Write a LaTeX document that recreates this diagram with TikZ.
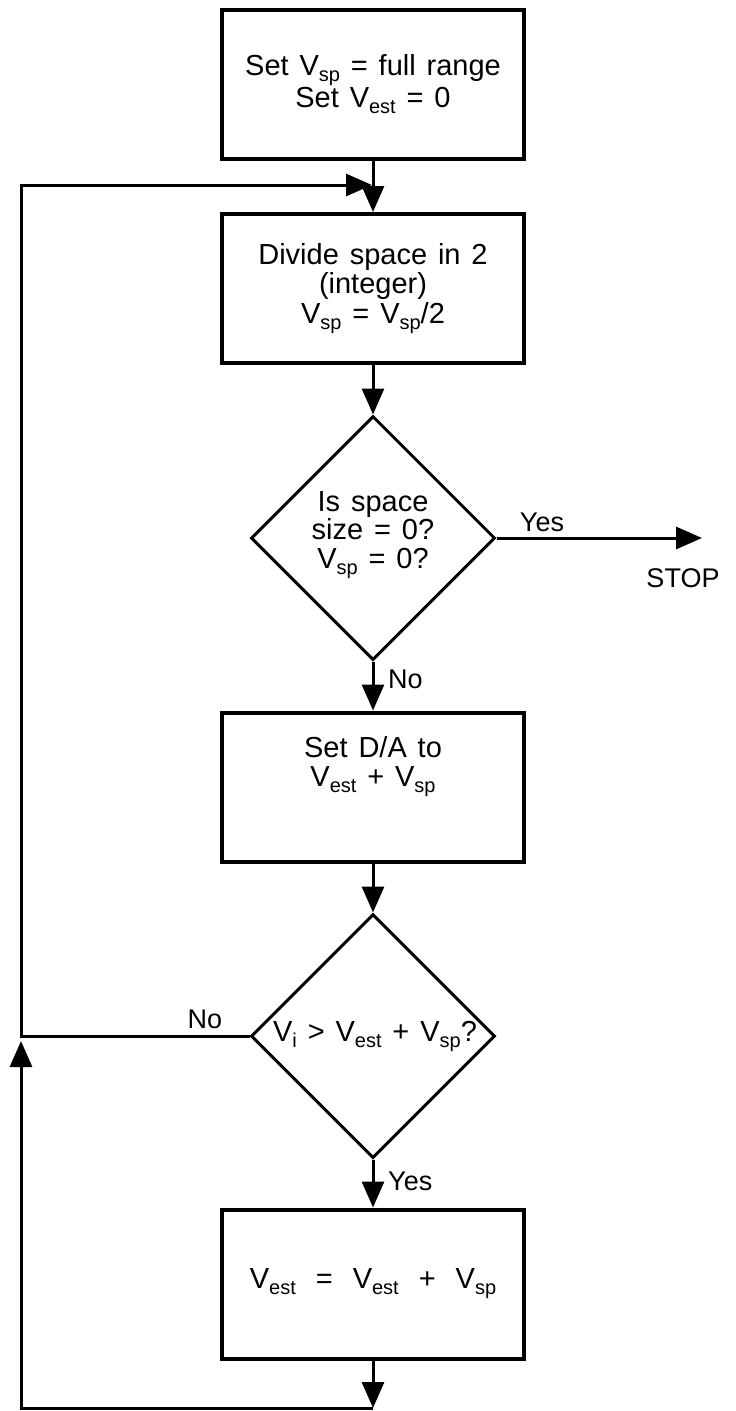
\documentclass[tikz,border=0pt]{standalone}
\usepackage{fontspec}
\setmainfont{Liberation Sans}[WordSpace=1.35]
\usetikzlibrary{arrows.meta,shapes.geometric}
% lowered, smaller subscript text
\newcommand\lowsub[1]{\raisebox{-6pt}{\fontsize{20}{20}\selectfont #1}}
% wider gap used in the update formula
\newcommand\gap{\hspace{20pt}}
\begin{document}
\begin{tikzpicture}[x=1pt,y=-1pt,
  box/.style={draw,line width=4pt,minimum width=302pt,minimum height=149pt,
    inner sep=0pt,align=center,font=\fontsize{29}{29.5}\selectfont},
  dec/.style={draw,diamond,line width=3pt,minimum width=244pt,
    minimum height=244pt,inner sep=0pt},
  txt/.style={align=center,inner sep=0pt,font=\fontsize{29}{28.5}\selectfont},
  lbl/.style={inner sep=0pt,font=\fontsize{27}{27}\selectfont},
  arr/.style={line width=3pt,-{Triangle[length=26pt,width=22pt]}},
  ln/.style={line width=3pt}]
\useasboundingbox (0,0) rectangle (736,1411);

% process boxes
\node[box] (b1) at (373,84) {Set V\lowsub{sp} = full range\\Set V\lowsub{est} = 0};
\node[box] (b2) at (373,288.5) {Divide space in 2\\(integer)\\V\lowsub{sp} = V\lowsub{sp}/2};
\node[box] (b3) at (373,787) {Set D/A to\\V\lowsub{est} + V\lowsub{sp}\\[22pt]};
\node[box] (b4) at (373,1284) {V\lowsub{est}\gap=\gap V\lowsub{est}\gap+\gap V\lowsub{sp}};

% decisions
\node[dec] (d1) at (373,538) {};
\node[txt] (t1) at (373,535) {Is space\\size = 0?\\V\lowsub{sp} = 0?};
\node[dec] (d2) at (373,1036) {};
\node[txt] (t2) at (375,1036) {V\lowsub{i} > V\lowsub{est} + V\lowsub{sp}?};

% free ends of connectors
\coordinate (stop) at (702,538);
\coordinate (ltop) at (21,185);
\coordinate (ljoin) at (372,185);
\coordinate (bjoin) at (373,1408);
\coordinate (lup) at (21,1041);

% main flow
\draw[arr] (b1.south) -- (b2.north);
\draw[arr] (b2.south) -- (d1.north);
\draw[arr] (d1.south) -- (b3.north);
\draw[arr] (b3.south) -- (d2.north);
\draw[arr] (d2.south) -- (b4.north);
\draw[arr] (d1.east) -- (stop);

% loop back from the comparison
\draw[arr] (d2.west) -| (ltop) -- (ljoin);
% return from the update step
\draw[arr] (b4.south) -- (bjoin);
\draw[arr] (bjoin) -| (lup);

% labels
\node[lbl] (yes1) at (542,522) {Yes};
\node[lbl] (stoplbl) at (683,578) {STOP};
\node[lbl,anchor=west] (no1) at (388,679) {No};
\node[lbl] (no2) at (205,1019) {No};
\node[lbl,anchor=west] (yes2) at (388,1181) {Yes};
\end{tikzpicture}
\end{document}
